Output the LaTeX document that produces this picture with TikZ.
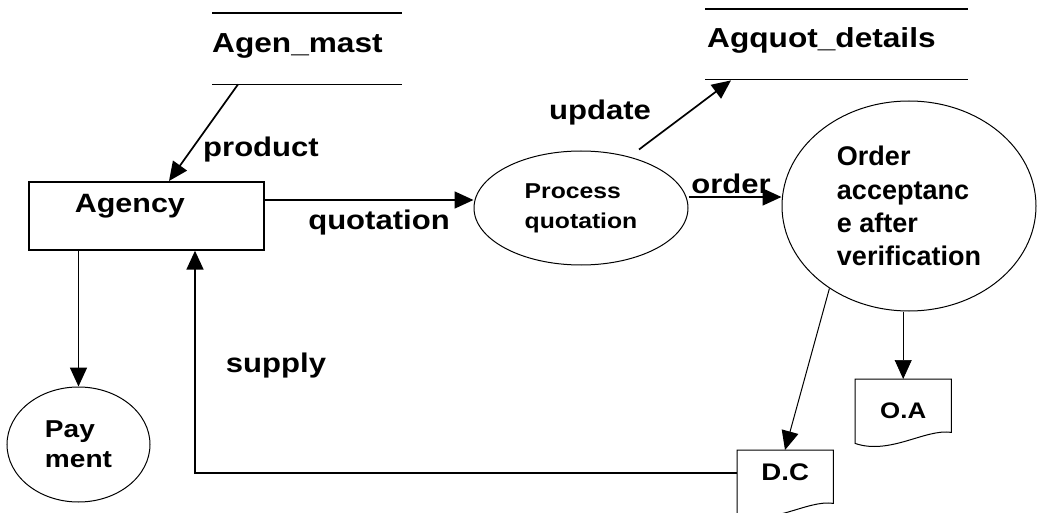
\documentclass[tikz,border=0pt]{standalone}
\usepackage{fontspec}
\newfontfamily\dfdfont{Liberation Sans}[FakeStretch=1.15]
\newfontfamily\dfdplain{Liberation Sans}
\usetikzlibrary{shapes.geometric,arrows.meta,calc}

% outline of a document symbol with a wavy bottom edge
\newcommand\docoutline[1]{%
  \draw[line width=1pt] (#1.north west) -- (#1.north east)
    -- ($(#1.south east)+(0,-11)$)
    .. controls +(-26,-4) and +(35,12) .. (#1.south west) -- cycle;}

\begin{document}
\begin{tikzpicture}[x=1pt,y=-1pt,
  tip/.style={-{Triangle[length=19pt,width=17pt]}},
  flow/.style={line width=1.7pt,tip},
  thinflow/.style={line width=1pt,tip},
  lbl/.style={font=\dfdfont\bfseries\fontsize{27}{32}\selectfont,anchor=base,inner sep=0pt},
  proc/.style={ellipse,draw,line width=1pt,inner sep=0pt,align=left},
  store/.style={inner xsep=0pt,inner ysep=0pt,align=left,anchor=north west,
    font=\dfdfont\bfseries\fontsize{27.5}{32}\selectfont},
  docnode/.style={minimum width=96pt,inner sep=0pt,anchor=north west},
]
\useasboundingbox (0,0) rectangle (1039,513);

% data stores
\node[store,text width=190pt,text height=39pt,text depth=32pt] (am) at (212,13) {Agen\_mast};
\draw[line width=1.5pt] (am.north west) -- (am.north east) (am.south west) -- (am.south east);
\node[store,text width=263pt,text height=38pt,text depth=32pt] (aq) at (705,9) {\hspace{2pt}Agquot\_details};
\draw[line width=1.5pt] (aq.north west) -- (aq.north east) (aq.south west) -- (aq.south east);

% external entity
\node[draw,line width=1.7pt,anchor=north west,text width=143pt,inner xsep=46pt,inner ysep=0pt,
  text height=31pt,text depth=37pt,align=left,
  font=\dfdfont\bfseries\fontsize{26.5}{32}\selectfont] (ag) at (28,181) {Agency};

% processes
\node[proc,minimum width=214pt,minimum height=114pt,
  font=\dfdfont\bfseries\fontsize{21.5}{30}\selectfont] (pq) at (581,208) {Process\\quotation};
\node[proc,minimum width=254pt,minimum height=210pt,
  font=\dfdplain\bfseries\fontsize{27}{33.3}\selectfont] (oa) at (909,206)
  {Order\\acceptanc\\e after\\verification};
\node[proc,minimum width=143pt,minimum height=115pt,
  font=\dfdfont\bfseries\fontsize{24.4}{30}\selectfont] (pay) at (78.5,444.5) {Pay\\ment};

% documents
\node[docnode,text height=30pt,text depth=34pt,
  font=\dfdfont\bfseries\fontsize{24}{30}\selectfont] (dc) at (737,450) {D.C};
\docoutline{dc}
\node[docnode,text height=39pt,text depth=25pt,
  font=\dfdfont\bfseries\fontsize{22.5}{30}\selectfont] (od) at (855,379) {O.A};
\docoutline{od}

% flow labels
\node[lbl] (lprod) at (261,157) {product};
\node[lbl] (lquot) at (379,230) {quotation};
\node[lbl] (lupd) at (600,120) {update};
\node[lbl] (lord) at (731,194) {order};
\node[lbl] (lsup) at (276,372) {supply};

% data flows
\draw[flow] ($(am.south west)+(26,0)$) -- ($(ag.north west)+(141,0)$);
\draw[flow] ($(ag.north east)+(0,19)$) -- ($(pq.west)+(0,-8)$);
\draw[flow] ($(pq.north)+(58,-1)$) -- ($(aq.south west)+(26,1)$);
\draw[flow] ($(pq.east)+(0,-11)$) -- ($(oa.west)+(0,-9)$);
\draw[flow] (pay.north |- ag.south) -- (pay.north);
\draw[thinflow] (oa.226) -- ($(dc.north west)+(48,0)$);
\draw[thinflow,line width=0.7pt] (od.north |- oa.south) -- (od.north);
\draw[flow] ($(dc.north west)+(0,23)$) -| ($(ag.south west)+(167,0)$);
\end{tikzpicture}
\end{document}
